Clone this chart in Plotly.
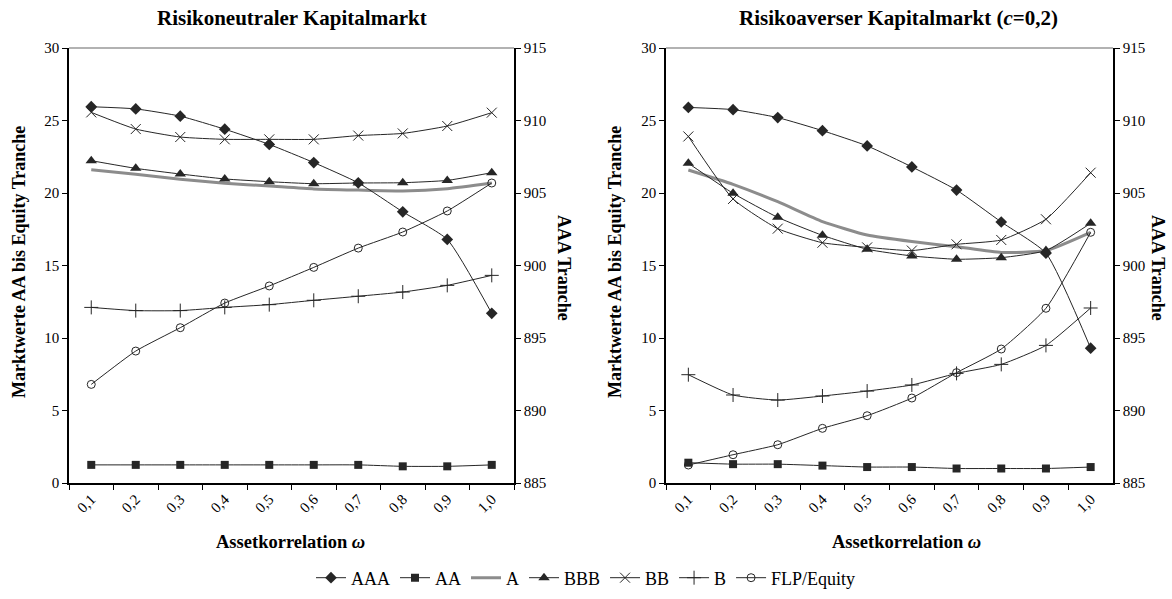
import plotly.graph_objects as go

# Assetkorrelation omega (category labels)
omega = ["0,1", "0,2", "0,3", "0,4", "0,5", "0,6", "0,7", "0,8", "0,9", "1,0"]

# Risikoneutraler Kapitalmarkt
neutral_aaa = [910.95, 910.8, 910.3, 909.4, 908.35, 907.1, 905.7, 903.7, 901.8, 896.7]
neutral_aa = [1.25, 1.25, 1.25, 1.25, 1.25, 1.25, 1.25, 1.15, 1.15, 1.25]
neutral_a = [21.6, 21.3, 20.95, 20.67, 20.48, 20.28, 20.2, 20.14, 20.3, 20.69]
neutral_bbb = [22.23, 21.7, 21.31, 20.97, 20.78, 20.64, 20.69, 20.71, 20.87, 21.4]
neutral_bb = [25.56, 24.41, 23.86, 23.7, 23.7, 23.7, 23.96, 24.11, 24.62, 25.54]
neutral_b = [12.11, 11.89, 11.89, 12.11, 12.3, 12.6, 12.88, 13.17, 13.63, 14.32]
neutral_flp = [6.8, 9.1, 10.71, 12.41, 13.59, 14.87, 16.2, 17.31, 18.76, 20.69]

# Risikoaverser Kapitalmarkt (c=0,2)
averse_aaa = [910.9, 910.75, 910.2, 909.3, 908.25, 906.8, 905.2, 903.0, 900.85, 894.3]
averse_aa = [1.4, 1.3, 1.3, 1.2, 1.1, 1.1, 1.0, 1.0, 1.0, 1.1]
averse_a = [21.59, 20.6, 19.4, 18.03, 17.1, 16.65, 16.3, 15.9, 16.03, 17.29]
averse_bbb = [22.05, 19.98, 18.32, 17.08, 16.12, 15.66, 15.43, 15.54, 16.03, 17.91]
averse_bb = [23.9, 19.59, 17.54, 16.57, 16.25, 16.03, 16.46, 16.76, 18.19, 21.4]
averse_b = [7.47, 6.07, 5.72, 6.0, 6.34, 6.76, 7.56, 8.18, 9.49, 12.07]
averse_flp = [1.24, 1.95, 2.64, 3.77, 4.64, 5.86, 7.61, 9.24, 12.05, 17.29]

W, H = 1172, 599
DARK = "#262626"
FONT = "Liberation Serif"


def px(x):
    return x / W


def py(y):
    return 1 - y / H


styles = {
    "AAA": dict(mode="lines+markers", line=dict(color=DARK, width=1),
                marker=dict(symbol="diamond", size=9, color=DARK)),
    "AA": dict(mode="lines+markers", line=dict(color=DARK, width=1),
               marker=dict(symbol="square", size=8, color=DARK)),
    "A": dict(mode="lines", line=dict(color="#8c8c8c", width=3)),
    "BBB": dict(mode="lines+markers", line=dict(color=DARK, width=1),
                marker=dict(symbol="triangle-up", size=10, color=DARK)),
    "BB": dict(mode="lines+markers", line=dict(color=DARK, width=1),
               marker=dict(symbol="x-thin-open", size=10, color=DARK, line=dict(width=1, color=DARK))),
    "B": dict(mode="lines+markers", line=dict(color=DARK, width=1),
              marker=dict(symbol="cross-thin-open", size=10, color=DARK, line=dict(width=1, color=DARK))),
    "FLP/Equity": dict(mode="lines+markers", line=dict(color=DARK, width=1),
                       marker=dict(symbol="circle-open", size=8, color=DARK, line=dict(width=1, color=DARK))),
}

panels = [
    ("x", "y", "y2", True, [("AAA", neutral_aaa), ("AA", neutral_aa), ("A", neutral_a), ("BBB", neutral_bbb),
                            ("BB", neutral_bb), ("B", neutral_b), ("FLP/Equity", neutral_flp)]),
    ("x2", "y3", "y4", False, [("AAA", averse_aaa), ("AA", averse_aa), ("A", averse_a), ("BBB", averse_bbb),
                               ("BB", averse_bb), ("B", averse_b), ("FLP/Equity", averse_flp)]),
]

fig = go.Figure()
for xa, ya, ya_aaa, show, series in panels:
    for name, vals in series:
        st = styles[name]
        st["line"]["shape"] = "spline"
        st["line"]["smoothing"] = 0.5
        fig.add_trace(go.Scatter(
            x=omega, y=vals, name=name, xaxis=xa,
            yaxis=ya_aaa if name == "AAA" else ya,
            showlegend=show, cliponaxis=False, **st
        ))

tickfont = dict(family=FONT, size=15, color="black")
xcommon = dict(type="category", range=[-0.5, len(omega) - 0.5], tickson="boundaries", ticks="outside",
               ticklen=5, tickcolor="black", tickangle=-45, showline=True, linecolor="black",
               linewidth=1.5, showgrid=False, zeroline=False, tickfont=tickfont, automargin=False)
ycommon = dict(ticks="outside", ticklen=5, tickcolor="black", showline=True, linecolor="black",
               linewidth=1.5, showgrid=False, zeroline=False, tickfont=tickfont, dtick=5, automargin=False)

ydom = [py(483), py(48)]
fig.update_layout(
    width=W, height=H, autosize=False,
    margin=dict(l=0, r=0, t=0, b=0, pad=0),
    paper_bgcolor="white", plot_bgcolor="white",
    font=dict(family=FONT, color="black"),
    xaxis=dict(domain=[px(69), px(514)], anchor="y", **xcommon),
    yaxis=dict(domain=ydom, anchor="x", range=[0, 30], **ycommon),
    yaxis2=dict(overlaying="y", side="right", anchor="x", range=[885, 915], **ycommon),
    xaxis2=dict(domain=[px(666), px(1113)], anchor="y3", **xcommon),
    yaxis3=dict(domain=ydom, anchor="x2", range=[0, 30], **ycommon),
    yaxis4=dict(overlaying="y3", side="right", anchor="x2", range=[885, 915], **ycommon),
    legend=dict(orientation="h", x=0.5, xanchor="center", y=py(578), yanchor="middle",
                font=dict(family=FONT, size=18, color="black"), itemwidth=30),
)

# gray top border of each plot area
for x0, x1 in [(69, 514), (666, 1113)]:
    fig.add_shape(type="line", xref="paper", yref="paper", x0=px(x0), x1=px(x1), y0=py(48), y1=py(48),
                  line=dict(color="#999999", width=1.5))

texts = [
    ("<b>Risikoneutraler Kapitalmarkt</b>", 292, 18, 0, 21),
    ("<b>Risikoaverser Kapitalmarkt (<i>c</i>=0,2)</b>", 898, 18, 0, 21),
    ("<b>Assetkorrelation <i>ω</i></b>", 290, 542, 0, 18.5),
    ("<b>Assetkorrelation <i>ω</i></b>", 906, 542, 0, 18.5),
    ("<b>Marktwerte AA bis Equity Tranche</b>", 19, 262, -90, 18),
    ("<b>Marktwerte AA bis Equity Tranche</b>", 615, 262, -90, 18),
    ("<b>AAA Tranche</b>", 564, 268, 90, 18),
    ("<b>AAA Tranche</b>", 1158, 268, 90, 18),
]
for t, x, y, ang, size in texts:
    fig.add_annotation(text=t, x=px(x), y=py(y), xref="paper", yref="paper", showarrow=False,
                       xanchor="center", yanchor="middle", textangle=ang,
                       font=dict(family=FONT, color="black", size=size))

fig.write_html(
    "out.html",
    config={"displayModeBar": False},
    post_script="document.body.style.margin='0px';document.body.style.overflow='hidden';",
)
